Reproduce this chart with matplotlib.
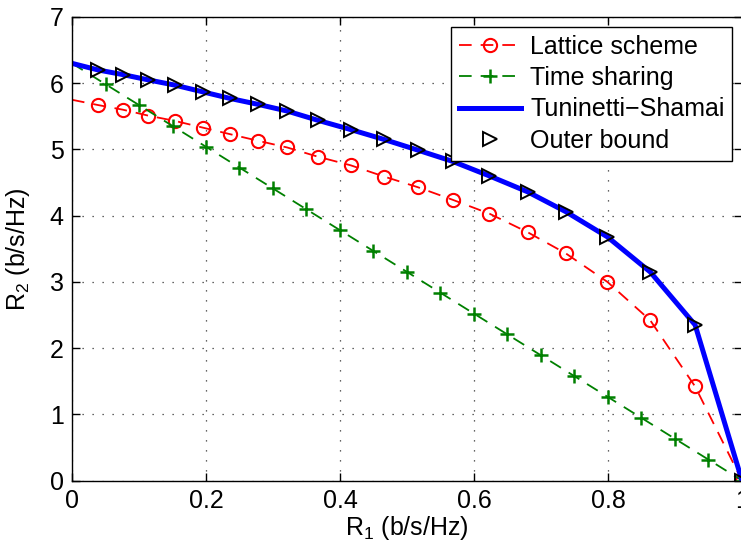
import matplotlib
matplotlib.use('Agg')
import matplotlib.pyplot as plt

# --- Data ---
# R1 positions shared by the lattice scheme, Tuninetti-Shamai curve and outer bound
r1_points = [0.0, 0.039, 0.076, 0.114, 0.154, 0.195, 0.236, 0.278, 0.321, 0.367,
             0.416, 0.466, 0.516, 0.568, 0.623, 0.680, 0.737, 0.799, 0.863, 0.930, 1.0]
lattice_r2 = [5.75, 5.67, 5.60, 5.51, 5.43, 5.33, 5.23, 5.13, 5.03, 4.89,
              4.76, 4.59, 4.43, 4.24, 4.03, 3.75, 3.43, 3.00, 2.42, 1.42, 0.0]
shamai_r2 = [6.30, 6.20, 6.13, 6.05, 5.97, 5.87, 5.77, 5.68, 5.58, 5.44,
             5.30, 5.15, 4.99, 4.82, 4.60, 4.36, 4.06, 3.68, 3.15, 2.35, 0.0]
outer_r2 = [6.30, 6.20, 6.13, 6.05, 5.97, 5.87, 5.77, 5.68, 5.58, 5.44,
            5.30, 5.15, 4.99, 4.82, 4.60, 4.36, 4.06, 3.68, 3.15, 2.35, 0.0]

# time sharing points
ts_r1 = [0.0, 0.05, 0.10, 0.15, 0.20, 0.25, 0.30, 0.35, 0.40, 0.45, 0.50,
         0.55, 0.60, 0.65, 0.70, 0.75, 0.80, 0.85, 0.90, 0.95, 1.0]
ts_r2 = [6.30, 5.985, 5.67, 5.355, 5.04, 4.725, 4.41, 4.095, 3.78, 3.465, 3.15,
         2.835, 2.52, 2.205, 1.89, 1.575, 1.26, 0.945, 0.63, 0.315, 0.0]

x_ticks = [0, 0.2, 0.4, 0.6, 0.8, 1]
x_tick_labels = ['0', '0.2', '0.4', '0.6', '0.8', '1']
y_ticks = [0, 1, 2, 3, 4, 5, 6, 7]

# --- Style ---
plt.rcParams['font.family'] = ['Liberation Sans', 'DejaVu Sans']
plt.rcParams['mathtext.fontset'] = 'custom'
plt.rcParams['mathtext.rm'] = 'Liberation Sans'
plt.rcParams['mathtext.it'] = 'Liberation Sans'
plt.rcParams['font.size'] = 18

fig = plt.figure(figsize=(7.41, 5.42), dpi=100)
ax = fig.add_axes([72 / 741, 61.5 / 542, 670 / 741, 463.5 / 542])

ax.plot(r1_points, lattice_r2, color='red', linestyle='--', dashes=(7, 5),
        linewidth=1.3, marker='o', markersize=9.5, markerfacecolor='none',
        markeredgewidth=1.5, markevery=slice(1, None), label='Lattice scheme')
ax.plot(ts_r1, ts_r2, color='#008000', linestyle='--', dashes=(7, 5),
        linewidth=1.3, marker='+', markersize=10, markeredgewidth=1.8,
        markevery=slice(1, None), label='Time sharing')
ax.plot(r1_points, shamai_r2, color='blue', linewidth=3.6,
        label='Tuninetti\u2212Shamai')
ax.plot(r1_points[1:], outer_r2[1:], linestyle='none', marker='>',
        markersize=10, markerfacecolor='none', markeredgecolor='black',
        markeredgewidth=1.4, label='Outer bound')

ax.set_xlim(0, 1)
ax.set_ylim(0, 7)
ax.set_xticks(x_ticks)
ax.set_xticklabels(x_tick_labels)
ax.set_yticks(y_ticks)

ax.grid(True, linestyle=(0, (1, 7)), color='0.2', linewidth=0.9)
ax.tick_params(direction='in', top=True, right=True, length=6, width=1, pad=6)
for spine in ax.spines.values():
    spine.set_linewidth(1.0)

ax.set_xlabel('R$_1$ (b/s/Hz)', labelpad=1)
ax.set_ylabel('R$_2$ (b/s/Hz)', va='center')
ax.yaxis.set_label_coords(-0.081, 0.5)

leg = ax.legend(loc='upper right', fancybox=False, framealpha=1,
                edgecolor='black', borderpad=0.3, labelspacing=0.3,
                handlelength=2.5, handletextpad=0.35, borderaxespad=0.4,
                numpoints=1)
leg.get_frame().set_linewidth(1.0)

plt.savefig('out.png', dpi=100)
